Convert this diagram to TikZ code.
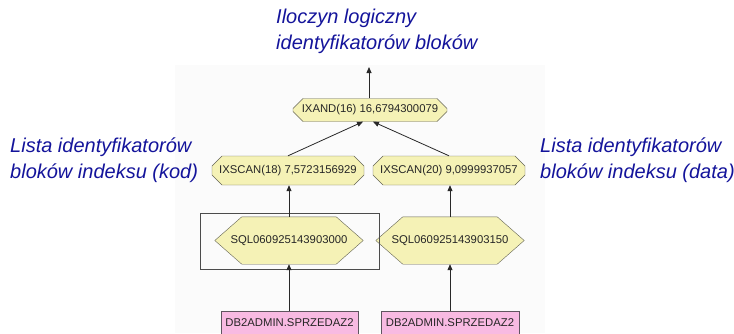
\documentclass[tikz,border=0pt]{standalone}
\usepackage{fontspec}
\setmainfont{Liberation Sans}
\usetikzlibrary{shapes.misc,arrows.meta,backgrounds}
\definecolor{notecol}{RGB}{20,20,155}
\definecolor{opfill}{RGB}{245,242,182}
\definecolor{opline}{RGB}{100,100,85}
\definecolor{tabfill}{RGB}{248,186,226}
\definecolor{tabline}{RGB}{95,85,95}
\definecolor{wire}{RGB}{40,40,40}
\definecolor{panel}{RGB}{251,251,251}
\begin{document}
\begin{tikzpicture}[x=1pt,y=-1pt,
  note/.style={text=notecol,font=\fontsize{20}{26.5}\selectfont\itshape,align=left,anchor=west,inner sep=0pt},
  opnode/.style={chamfered rectangle,chamfered rectangle xsep=5pt,chamfered rectangle ysep=5pt,
    draw=opline,fill=opfill,font=\fontsize{11.3}{13}\selectfont,text=black!85,inner sep=0pt},
  idxnode/.style={minimum width=148pt,minimum height=47pt,inner sep=0pt,
    font=\fontsize{11.3}{13}\selectfont,text=black!85},
  hexpath/.style={draw=opline,fill=opfill},
  tabnode/.style={rectangle,draw=tabline,fill=tabfill,inner sep=0pt,minimum height=24pt,
    font=\fontsize{11.3}{13}\selectfont,text=black!85},
  selframe/.style={rectangle,draw=black!70,line width=0.8pt,inner sep=0pt},
  link/.style={draw=wire,line width=0.8pt,-{Triangle[length=6pt,width=5pt]}}
]
\clip (0,0) rectangle (734,333);

% operator nodes
\node[opnode,minimum width=154pt,minimum height=23pt] (ixand) at (370,110) {IXAND(16) 16,6794300079};
\node[opnode,minimum width=152pt,minimum height=29pt] (ixl) at (288,170.5) {IXSCAN(18) 7,5723156929};
\node[opnode,minimum width=152pt,minimum height=29pt] (ixr) at (449,170.5) {IXSCAN(20) 9,0999937057};

% index nodes (hexagons drawn behind)
\node[selframe,minimum width=179pt,minimum height=56pt] (sel) at (289.5,241) {};
\node[idxnode] (idxl) at (289,240.5) {SQL060925143903000};
\node[idxnode] (idxr) at (450,240.5) {SQL060925143903150};

% tables
\node[tabnode,minimum width=137pt] (tabl) at (289.5,323) {DB2ADMIN.SPRZEDAZ2};
\node[tabnode,minimum width=138pt] (tabr) at (450,323) {DB2ADMIN.SPRZEDAZ2};

\begin{pgfonlayer}{background}
  \fill[panel] (175,65) rectangle (545,333);
  \foreach \h in {idxl,idxr}{
    \path[hexpath] (\h.west) -- ([xshift=27pt]\h.north west) -- ([xshift=-27pt]\h.north east)
      -- (\h.east) -- ([xshift=-27pt]\h.south east) -- ([xshift=27pt]\h.south west) -- cycle;
  }
\end{pgfonlayer}

% result end point
\coordinate (top) at (369,67);

% connectors
\draw[link] (ixand.north -| top) -- (top);
\draw[link] (ixl.north) -- ([xshift=-7pt]ixand.south);
\draw[link] (ixr.north) -- ([xshift=3pt]ixand.south);
\draw[link] (idxl.north) -- (idxl.north |- ixl.south);
\draw[link] (idxr.north) -- (idxr.north |- ixr.south);
\draw[link] (tabl.north -| idxl) -- (idxl.south);
\draw[link] (tabr.north -| idxr) -- (idxr.south);

% annotations
\node[note] (resnote) at (276,31.5) {Iloczyn logiczny\\identyfikatorów bloków};
\node[note] (lnote) at (10,160) {Lista identyfikatorów\\bloków indeksu (kod)};
\node[note] (rnote) at (540,160) {Lista identyfikatorów\\bloków indeksu (data)};
\end{tikzpicture}
\end{document}
